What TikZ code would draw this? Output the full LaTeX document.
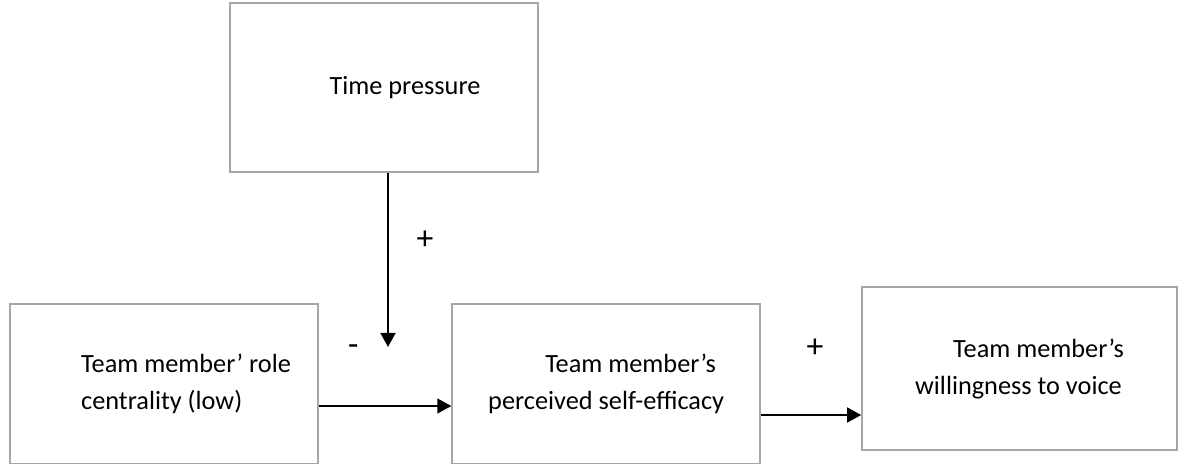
\documentclass[tikz,border=0pt]{standalone}
\usepackage{fontspec}
\setmainfont{Carlito}
\usetikzlibrary{arrows.meta}
\newcommand{\ind}[1]{\hspace*{#1}}

\begin{document}
\begin{tikzpicture}[x=0.025cm,y=-0.025cm,>={Triangle[length=3.5mm,width=3.7mm]},
    thick,main node/.style={rectangle,draw=gray!70,line width=1.05pt,
      font=\fontsize{18.7}{26.3}\selectfont,align=left,
      minimum height=4cm,minimum width=7.7cm},
      sign/.style={font=\fontsize{24}{28}\selectfont,inner sep=0pt},]

    \useasboundingbox (0,0) rectangle (1178,464);

    \node[main node, minimum height=4.225cm] (Time) at (384,87.5) {\ind{1.05cm}Time pressure};
    \node[main node] (Role) at (164,384) {\ind{1.1cm}Team member’ role\\\ind{1.1cm}centrality (low)};
    \node[main node] (Efficacy) [node distance=11.05cm, right of=Role] {\ind{1.425cm}Team member’s\\perceived self-efficacy};
    %\node[main node] (Voice) [node distance=10.3cm, right of=Efficacy] {};
    \node[main node, minimum width=7.875cm, minimum height=4.075cm] (Voice) at (1019.5,368.5) {\ind{0.95cm}Team member’s\\willingness to voice};

    \coordinate (mod) at (388,347);

    \path[every node/.style={sign}, ->, line width=1.4pt]
      (Time.south -| mod) edge node[pos=0.39, xshift=0.925cm] {+} (mod)
      ([yshift=-0.55cm]Role.east) edge node[pos=0.26, yshift=1.4cm] {-} ([yshift=-0.55cm]Role.east -| Efficacy.west)
      ([yshift=-0.775cm]Efficacy.east) edge node[pos=0.54, yshift=1.675cm] {+} ([yshift=-0.775cm]Efficacy.east -| Voice.west)
      ;
\end{tikzpicture}
\end{document}
